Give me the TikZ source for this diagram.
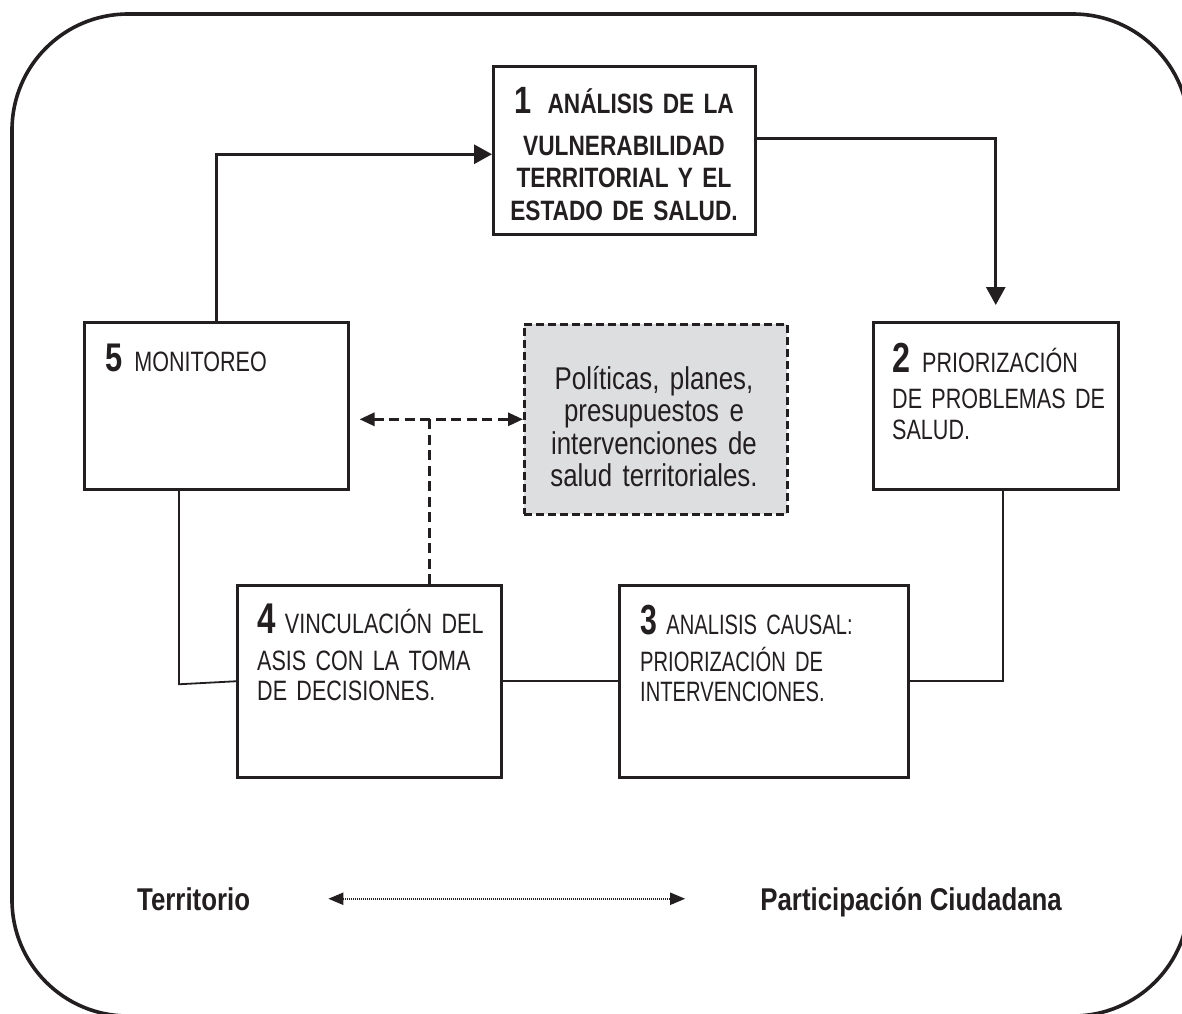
\documentclass[tikz,border=0pt]{standalone}
\usepackage{fontspec}
\setmainfont{Liberation Sans}[FakeStretch=0.82]
\newfontfamily\narrowf{Liberation Sans}[FakeStretch=0.77]
\newfontfamily\narrowerf{Liberation Sans}[FakeStretch=0.72]
\newfontfamily\titlef{Liberation Sans}[FakeStretch=0.81]
\usetikzlibrary{arrows.meta}
\definecolor{ink}{RGB}{35,31,32}
\definecolor{shade}{RGB}{221,222,223}
\tikzset{
  frame/.style={draw=ink, line width=3.6pt, rounded corners=116pt},
  stepbox/.style={draw=ink, line width=2.5pt, anchor=north west, inner sep=0pt},
  policybox/.style={draw=ink, fill=shade, line width=2.6pt, dash pattern=on 8pt off 4pt, anchor=north west, inner sep=0pt},
  boxtext/.style={inner sep=0pt, text=ink, anchor=base west, align=left, font=\narrowf\fontsize{28}{30}\selectfont},
  titletext/.style={inner sep=0pt, text=ink, anchor=base, align=center, font=\titlef\bfseries\fontsize{28}{32.5}\selectfont},
  bottomtext/.style={inner sep=0pt, text=ink, font=\bfseries\fontsize{31.5}{34}\selectfont},
  link/.style={draw=ink, line width=1.8pt},
  flow/.style={draw=ink, line width=3pt, -{Triangle[length=18pt,width=19pt]}},
  dlink/.style={draw=ink, line width=3pt, dash pattern=on 10pt off 5.5pt},
  darrow/.style={dlink, {Triangle[length=15pt,width=13pt]}-{Triangle[length=15pt,width=13pt]}},
  dotarrow/.style={draw=ink, line width=2pt, dash pattern=on 1pt off 1pt, {Triangle[length=15pt,width=12pt]}-{Triangle[length=15pt,width=12pt]}}
}
\newcommand{\numb}[2]{{\bfseries\fontsize{#1}{#1}\selectfont #2}}
\begin{document}
\begin{tikzpicture}[x=1pt,y=-1pt]
\useasboundingbox (0,0) rectangle (1182,1013);
\begin{scope}
  \clip (0,0) rectangle (1182,1013);
  \draw[frame] (12,14) rectangle (1189,1016);
\end{scope}

% boxes
\node[stepbox, minimum width=262, minimum height=168] (b1) at (492,65) {};
\node[stepbox, minimum width=245, minimum height=167] (b2) at (872,321) {};
\node[stepbox, minimum width=264, minimum height=167] (b5) at (83,321) {};
\node[stepbox, minimum width=264, minimum height=192] (b4) at (236,584) {};
\node[stepbox, minimum width=289, minimum height=192] (b3) at (618,584) {};
\node[policybox, minimum width=263, minimum height=190] (pb) at (523,323) {};

% texts
\node[titletext, text width=255] (t1) at (624,113)
  {\numb{38}{1}\hspace{7pt} ANÁLISIS DE LA\\[9.5pt]VULNERABILIDAD\\TERRITORIAL Y EL\\ESTADO DE SALUD.};
\node[boxtext, text width=225, font=\narrowf\fontsize{28}{31}\selectfont] (t2) at (892,372)
  {\numb{42}{2}\hspace{12pt}PRIORIZACIÓN\\[5pt]DE PROBLEMAS DE\\SALUD.};
\node[boxtext, text width=240] (t5) at (105,371)
  {\numb{40}{5}\hspace{12pt}MONITOREO};
\node[boxtext, text width=245] (t4) at (257,633)
  {\numb{43}{4} VINCULACIÓN DEL\\[7pt]ASIS CON LA TOMA\\DE DECISIONES.};
\node[boxtext, text width=260, font=\narrowerf\fontsize{28}{30}\selectfont] (t3) at (640,634)
  {\numb{42}{3} ANALISIS CAUSAL:\\[7pt]PRIORIZACIÓN DE\\INTERVENCIONES.};
\node[inner sep=0pt, text=ink, anchor=base, align=center, text width=255, font=\fontsize{31.5}{32.5}\selectfont] (tp) at (654,389)
  {Políticas, planes,\\presupuestos e\\intervenciones de\\salud territoriales.};

\node[bottomtext, anchor=base west] (terr) at (137,910) {Territorio};
\node[bottomtext, anchor=base east] (part) at (1062,910) {Participación Ciudadana};

% connectors
\coordinate (bend) at ([xshift=-57pt, yshift=-3pt]b4.west);
\draw[flow] (b5.north) |- ([yshift=-4pt]b1.west);
\draw[flow, shorten >=16pt] ([yshift=12pt]b1.east) -| (b2.north);
\draw[link] ([xshift=7.5pt]b2.south) |- (b3.east);
\draw[link] (b3.west) -- (b4.east);
\draw[link] (b4.west) -- (bend) -- (bend |- b5.south);
\draw[darrow, shorten <=10pt] (pb.west -| b5.east) -- (pb.west);
\draw[dlink] ([xshift=60pt]b4.north) -- ([xshift=60pt]b4.north |- pb.west);
\draw[dotarrow, shorten <=78pt, shorten >=75pt] (terr.east) -- (part.west |- terr.east);
\end{tikzpicture}
\end{document}
